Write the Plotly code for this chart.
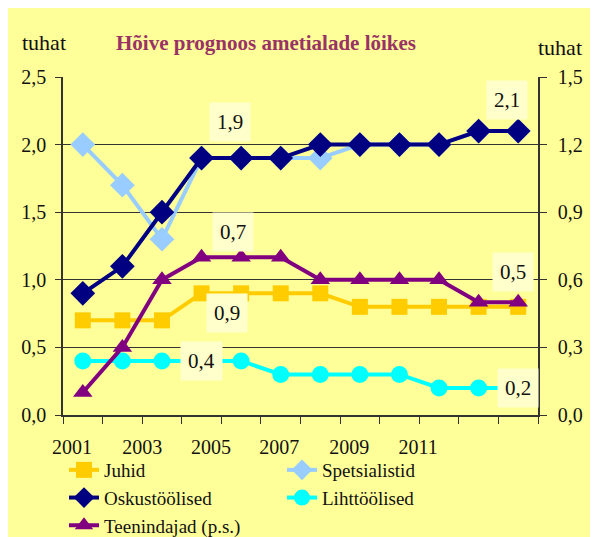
import plotly.graph_objects as go

years = list(range(2001, 2013))
juhid = [0.7, 0.7, 0.7, 0.9, 0.9, 0.9, 0.9, 0.8, 0.8, 0.8, 0.8, 0.8]
spetsialistid = [2.0, 1.7, 1.3, 1.9, 1.9, 1.9, 1.9, 2.0, 2.0, 2.0, 2.1, 2.1]
oskustoolised = [0.9, 1.1, 1.5, 1.9, 1.9, 1.9, 2.0, 2.0, 2.0, 2.0, 2.1, 2.1]
lihttoolised = [0.4, 0.4, 0.4, 0.4, 0.4, 0.3, 0.3, 0.3, 0.3, 0.2, 0.2, 0.2]
teenindajad = [0.1, 0.3, 0.6, 0.7, 0.7, 0.7, 0.6, 0.6, 0.6, 0.6, 0.5, 0.5]  # parempoolne skaala

tick_years = ["2001", "2003", "2005", "2007", "2009", "2011"]
# Excel put the year labels a bit off the category centres
tick_pos = [2000.73, 2002.50, 2004.24, 2005.96, 2007.73, 2009.47]

FONT = "Liberation Serif"
BG = "#FFFF99"
TXT = "#111111"

# the page body has an 8px white margin (same white strip as in the original),
# the figure is made a bit taller than the window so the legend is not squeezed
OFF = 8
W, H = 598, 560
L, R, T, B = 63 - OFF, W - (538 - OFF), 77 - OFF, H - (415 - OFF)
pw, ph = W - L - R, H - T - B

def px_x(p):  # window pixel -> paper
    return (p - OFF - L) / pw

def px_y(p):
    return (H - B - (p - OFF)) / ph

fig = go.Figure()

series = [
    ("Juhid", juhid, "#FFCC00", "square", 16, "y"),
    ("Spetsialistid", spetsialistid, "#99CCFF", "diamond", 19, "y"),
    ("Oskustöölised", oskustoolised, "#000080", "diamond", 19, "y"),
    ("Lihttöölised", lihttoolised, "#00FFFF", "circle", 17, "y"),
    ("Teenindajad (p.s.)", teenindajad, "#800080", "triangle-up", 17, "y2"),
]
for name, vals, col, sym, size, yax in series:
    fig.add_trace(go.Scatter(
        x=years, y=vals, name=name, yaxis=yax, mode="lines+markers",
        line=dict(color=col, width=4),
        marker=dict(symbol=sym, size=size, color=col),
    ))

def lab(v):
    return f"{v:.1f}".replace(".", ",")

# data labels: (year index, values, axis, xshift, yshift)
labels = [
    (3, oskustoolised, "y", 28, 36),
    (11, oskustoolised, "y", -11, 31),
    (3, teenindajad, "y2", 31, 25),
    (11, teenindajad, "y2", -5, 30),
    (3, juhid, "y", 25, -20),
    (3, lihttoolised, "y", 0, 0),
    (11, lihttoolised, "y", 0, 0),
]
for i, vals, yax, dx, dy in labels:
    fig.add_annotation(
        x=years[i], y=vals[i], yref=yax, text=lab(vals[i]), showarrow=False,
        xshift=dx, yshift=dy, bgcolor="#FFFFCC", borderpad=7,
        font=dict(family=FONT, size=21, color=TXT),
    )

# axis unit labels
for xp, yp in [(44, 43), (560, 47)]:
    fig.add_annotation(x=px_x(xp), y=px_y(yp), xref="paper", yref="paper", text="tuhat",
                       xanchor="center", yanchor="middle", showarrow=False,
                       font=dict(family=FONT, size=22, color=TXT))

axis_font = dict(family=FONT, size=20, color=TXT)
fig.update_layout(
    width=W, height=H,
    margin=dict(l=L, r=R, t=T, b=B),
    paper_bgcolor=BG, plot_bgcolor=BG,
    separators=", ",
    title=dict(text="<b>Hõive prognoos ametialade lõikes</b>", x=(266 - OFF) / W, xanchor="center",
               y=1 - (43 - OFF) / H, yanchor="middle", xref="container", yref="container",
               font=dict(family=FONT, size=21, color="#993366")),
    xaxis=dict(range=[2000.5, 2012.5], tickvals=tick_pos, ticktext=tick_years, ticks="",
               showgrid=False, showline=True, linecolor="#333333", linewidth=1.5,
               tickfont=axis_font, zeroline=False, automargin=False, ticklabelstandoff=13,
               minor=dict(tickvals=[y + 0.5 for y in range(2000, 2013)], ticks="outside",
                          ticklen=7, tickcolor="#333333", tickwidth=1, showgrid=False)),
    yaxis=dict(range=[0, 2.5], dtick=0.5, tickformat=".1f", ticks="outside", ticklen=6,
               tickcolor="#333333", showline=True, linecolor="#333333", linewidth=1.5,
               gridcolor="#333333", gridwidth=1, zeroline=False, tickfont=axis_font,
               automargin=False, ticklabelstandoff=5),
    yaxis2=dict(range=[0, 1.5], dtick=0.3, tickformat=".1f", ticks="outside", ticklen=7,
                tickcolor="#333333", overlaying="y", side="right", showline=True,
                linecolor="#333333", linewidth=1.5, showgrid=False, zeroline=False,
                tickfont=axis_font, automargin=False, ticklabelstandoff=7),
    legend=dict(orientation="h", x=px_x(64), y=px_y(451), xanchor="left", yanchor="top",
                entrywidth=173, bgcolor="rgba(0,0,0,0)",
                font=dict(family=FONT, size=19, color=TXT)),
    showlegend=True,
)

fig.write_html("out.html")
